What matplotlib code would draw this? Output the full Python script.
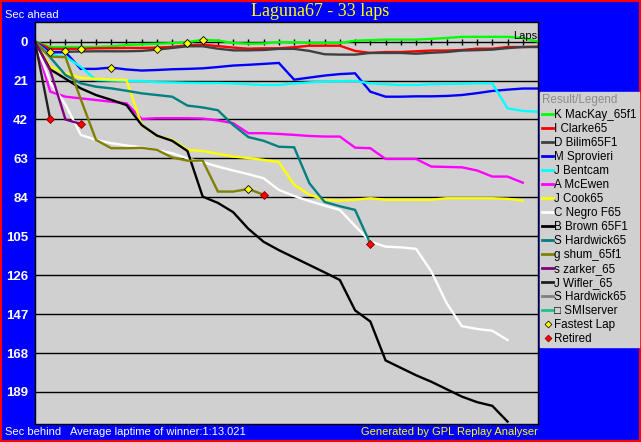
import numpy as np
import matplotlib.pyplot as plt
from matplotlib.lines import Line2D
from matplotlib.patches import Rectangle

plt.rcParams['font.family'] = ['Liberation Sans', 'DejaVu Sans']

title = "Laguna67 - 33 laps"
total_laps = 33
yticks = [0, 21, 42, 63, 84, 105, 126, 147, 168, 189]

# seconds behind winner's average pace, one value per lap (lap 0 = start)
mackay = [0, 2.9, 2.9, 2.9, 2.9, 2.5, 1.8, 1.5, 1.1, 0.8, 0.3, -1.0, -0.6, 0.7, 1.1, 1.0, 0.2,
          0.3, 0.7, 0.7, 0.7, -0.5, -0.8, -1.1, -1.1, -1.1, -1.5, -2.0, -2.6, -2.6, -2.6, -2.6, -2.0, 0]
clarke = [0, 3.9, 3.9, 3.9, 3.6, 3.5, 3.4, 3.4, 3.2, 2.8, 2.0, 1.6, 2.4, 3.2, 3.8, 3.6, 3.6,
          3.0, 2.2, 2.2, 2.2, 5.0, 6.1, 5.6, 5.6, 5.2, 4.8, 4.8, 4.5, 3.8, 3.8, 2.9, 2.9, 2.7]
bilim = [0, 5.7, 5.5, 5.3, 5.2, 5.2, 5.2, 5.0, 4.3, 3.4, 2.5, 2.5, 3.8, 4.7, 4.7, 4.5, 3.9,
         3.9, 5.0, 6.8, 7.0, 7.0, 6.1, 6.1, 6.1, 6.5, 6.0, 5.6, 4.8, 4.6, 4.3, 3.5, 2.9, 2.9]
sprovieri = [0, 5.7, 5.7, 14.7, 14.7, 14.0, 15.0, 15.6, 15.3, 14.9, 14.7, 14.4, 13.7, 12.9, 12.5,
             12.0, 11.5, 20.5, 19.4, 18.3, 17.5, 17.1, 27.0, 29.7, 29.7, 29.5, 29.5, 29.3, 28.8,
             27.8, 26.6, 25.9, 25.3, 25.3]
bentcam = [0, 7.2, 8.1, 13.5, 20.7, 21.0, 21.2, 21.2, 21.9, 22.0, 22.2, 22.3, 22.3, 22.5, 23.0,
           23.4, 23.4, 22.5, 22.0, 21.6, 21.3, 21.2, 22.5, 23.0, 23.4, 23.4, 23.0, 22.8, 22.7,
           22.5, 22.5, 36.0, 37.4, 37.8]
mcewen = [0, 27.0, 29.7, 30.6, 31.5, 32.4, 33.3, 41.7, 41.3, 41.3, 41.3, 41.5, 42.5, 44.0, 49.4,
          49.4, 49.8, 50.3, 50.9, 51.2, 51.2, 57.2, 57.5, 63.3, 63.3, 63.3, 67.4, 67.6, 67.8,
          69.5, 72.8, 72.8, 76.1]
cook = [0, 13.5, 17.0, 19.5, 20.1, 20.5, 20.7, 45.0, 51.0, 53.0, 58.4, 59.0, 60.5, 62.0, 62.8,
        63.8, 65.0, 77.2, 82.6, 85.3, 85.7, 85.3, 84.5, 85.3, 85.3, 85.3, 85.3, 84.5, 84.5, 84.5,
        84.5, 84.8, 85.7]
negro = [0, 22.0, 34.0, 50.3, 53.0, 54.8, 56.0, 57.0, 58.5, 60.2, 63.0, 65.0, 67.4, 69.5, 71.5,
         73.7, 80.0, 83.3, 86.0, 88.5, 90.8, 99.5, 107.9, 110.6, 111.0, 111.8, 124.0, 141.0,
         153.5, 155.0, 156.0, 161.0]
brown = [0, 15.0, 20.0, 25.2, 28.8, 31.4, 34.2, 45.0, 50.7, 53.5, 59.0, 83.6, 87.0, 92.0, 101.0,
         108.0, 112.5, 116.5, 120.5, 124.5, 128.6, 145.0, 151.0, 172.0, 176.0, 180.0, 183.5,
         187.5, 191.5, 194.5, 196.5, 205.0]
hardwick = [0, 8.5, 18.0, 22.5, 24.3, 25.2, 26.5, 27.9, 28.8, 29.7, 34.5, 35.5, 37.0, 45.0, 51.5,
            53.5, 56.7, 57.0, 76.4, 86.5, 88.8, 90.8, 109.0]
shum = [0, 8.1, 8.4, 31.0, 53.0, 57.5, 57.5, 57.3, 58.4, 62.5, 64.2, 64.2, 80.9, 80.9, 79.5, 82.6]
zarker = [0, 15.5, 42.0, 44.4]
wifler = [0, 42.0]

names = ["K MacKay_65f1", "I Clarke65", "D Bilim65F1", "M Sprovieri", "J Bentcam", "A McEwen",
         "J Cook65", "C Negro F65", "B Brown 65F1", "S Hardwick65", "g shum_65f1", "s zarker_65",
         "J Wifler_65", "S Hardwick65", "\u25a1 SMIserver"]
colors = ["#00ff00", "#ff0000", "#404040", "#0000ff", "#00ffff", "#ff00ff", "#ffff00", "#ffffff",
          "#000000", "#008080", "#808000", "#800080", "#202020", "#808080", "#20c090"]
series = [mackay, clarke, bilim, sprovieri, bentcam, mcewen, cook, negro, brown, hardwick, shum,
          zarker, wifler, [], []]

# markers
fastest_laps = [1, 2, 3, 5, 8, 10, 11, 14]
fastest_secs = [5.7, 4.8, 3.8, 14.0, 3.8, 0.5, -1.0, 79.5]
retired_laps = [1, 3, 15, 22]
retired_secs = [42.0, 44.4, 82.6, 109.0]

W, H = 641, 442
fig = plt.figure(figsize=(W / 100, H / 100), dpi=100, facecolor="#0000ff")
ax = fig.add_axes([35 / W, 18 / H, 503 / W, 402 / H])
ax.set_facecolor("#d0d0d0")

for name, col, vals in zip(names, colors, series):
    if len(vals) == 0:
        continue
    ax.plot(np.arange(len(vals)), vals, color=col, lw=1.7, solid_joinstyle="miter")

ax.plot(fastest_laps, fastest_secs, ls="none", marker="D", ms=4.5, mfc="#ffff00", mec="black", mew=0.6)
ax.plot(retired_laps, retired_secs, ls="none", marker="D", ms=4.5, mfc="#ff0000", mec="#800000", mew=0.6)

ax.set_xlim(0, total_laps)
ax.set_ylim(206.3, -10.6)
ax.set_xticks([])
ax.set_yticks(yticks)
ax.tick_params(axis="y", length=0, pad=5, labelcolor="white", labelsize=9.5)
for lbl in ax.get_yticklabels():
    lbl.set_fontweight("bold")
ax.yaxis.grid(True, color="black", lw=1)
ax.set_axisbelow(True)
for sp in ax.spines.values():
    sp.set_color("black")
    sp.set_linewidth(1)

# lap ticks along the zero line
ylo, yhi = ax.get_ylim()
zero_pos = (0 - ylo) / (yhi - ylo)
secax = ax.secondary_xaxis(zero_pos)
secax.set_xticks(range(total_laps + 1))
secax.tick_params(direction="inout", length=5, width=1, color="black", labelbottom=False, labeltop=False)
secax.spines["bottom"].set_visible(False)
secax.spines["top"].set_visible(False)
ax.text(32.95, -0.6, "Laps", ha="right", va="bottom", fontsize=8, color="black")

# texts around the chart
fig.text(320 / W, 1 - 11 / H, title, ha="center", va="center", color="#ffff00",
         fontsize=13, family="Liberation Serif")
fig.text(5 / W, 1 - 15 / H, "Sec ahead", ha="left", va="center", color="white", fontsize=8)
fig.text(5 / W, 1 - 432 / H, "Sec behind", ha="left", va="center", color="white", fontsize=8)
fig.text(70 / W, 1 - 432 / H, "Average laptime of winner:1:13.021", ha="left", va="center",
         color="white", fontsize=8)
fig.text(538 / W, 1 - 432 / H, "Generated by GPL Replay Analyser", ha="right", va="center",
         color="#ffff00", fontsize=8)

# legend
handles = [Line2D([], [], color=c, lw=2) for c in colors]
handles.append(Line2D([], [], ls="none", marker="D", ms=3.5, mfc="#ffff00", mec="black", mew=0.5))
handles.append(Line2D([], [], ls="none", marker="D", ms=3.5, mfc="#ff0000", mec="#800000", mew=0.5))
labels = names + ["Fastest Lap", "Retired"]
leg = fig.legend(handles, labels, loc="upper left", bbox_to_anchor=(540 / W, 1 - 92 / H),
                 fontsize=8.4, title="Result/Legend", title_fontsize=8.4, alignment="left",
                 handlelength=0.95, handletextpad=0.05, borderpad=0.2, labelspacing=0.17,
                 borderaxespad=0, frameon=True, fancybox=False, framealpha=1,
                 facecolor="#d0d0d0", edgecolor="#d0d0d0")
leg.get_title().set_color("#8c8c8c")
leg._legend_box.sep = 2

fig.add_artist(Rectangle((0, 0), 1, 1, transform=fig.transFigure, fill=False,
                         edgecolor="#ff0000", linewidth=3))

fig.savefig("out.png", dpi=100, facecolor=fig.get_facecolor())
